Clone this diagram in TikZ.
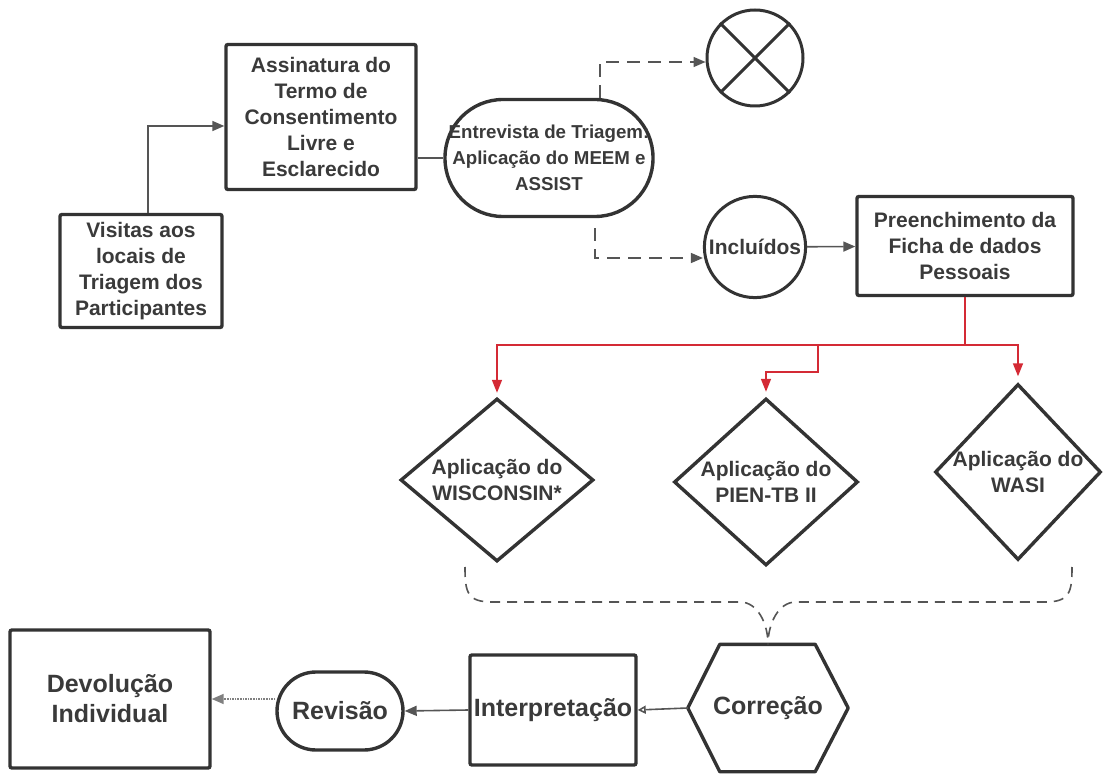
\documentclass[tikz,border=0pt]{standalone}
\usepackage{fontspec}
\setmainfont{Liberation Sans}
\usetikzlibrary{arrows.meta, shapes.geometric, calc}
\definecolor{txtgray}{HTML}{3A3A3A}
\definecolor{edgegray}{HTML}{333333}
\definecolor{linkgray}{HTML}{555555}
\definecolor{linkred}{HTML}{D42A35}

\begin{document}
\begin{tikzpicture}[x=1pt, y=-1pt,
    every node/.style={text=txtgray, font=\fontsize{21}{26}\selectfont\bfseries, align=center},
    box/.style={draw=edgegray, line width=3.4pt, rounded corners=2pt, inner sep=2pt},
    ring/.style={draw=edgegray, line width=3pt, circle, minimum size=96},
    rhomb/.style={draw=edgegray, line width=3.4pt, diamond, inner sep=-6pt},
    big/.style={font=\fontsize{25}{30}\selectfont\bfseries},
    link/.style={draw=linkgray, line width=1.6pt, -{Triangle[length=12pt,width=10pt]}},
    dashlink/.style={link, dash pattern=on 13pt off 8pt},
    redlink/.style={draw=linkred, line width=1.6pt, -{Triangle[length=13pt,width=10pt]}}]
    \useasboundingbox (0,0) rectangle (1106,775);

    % first row
    \node[box, minimum width=162, minimum height=113] (visitas) at (141,271)
        {Visitas aos\\locais de\\Triagem dos\\Participantes};
    \node[box, minimum width=190, minimum height=145] (assinatura) at (321,117)
        {Assinatura do\\Termo de\\Consentimento\\Livre e\\Esclarecido};
    \node[box, rounded corners=58pt, minimum width=208, minimum height=117,
          font=\fontsize{18.7}{26}\selectfont\bfseries] (entrevista) at (549,158)
        {Entrevista de Triagem:\\Aplicação do MEEM e\\ASSIST};
    \node[ring] (excluidos) at (755,58) {};
    \node[ring, minimum height=100] (incluidos) at (755,247) {Incluídos};
    \node[box, minimum width=216, minimum height=99] (ficha) at (965,246)
        {Preenchimento da\\Ficha de dados\\Pessoais};

    \draw[edgegray, line width=3pt] (excluidos.45) -- (excluidos.225);
    \draw[edgegray, line width=3pt] (excluidos.135) -- (excluidos.-45);

    \draw[link] ([xshift=7pt]visitas.north) |- ([yshift=-9pt]assinatura.west);
    \draw[draw=linkgray, line width=1.6pt] (assinatura.east |- entrevista.west) -- (entrevista.west);
    \draw[dashlink] ([xshift=51pt]entrevista.north) |- ([yshift=-4pt]excluidos.west);
    \draw[dashlink] ([xshift=46pt,yshift=-10pt]entrevista.south) |- ([yshift=-11pt]incluidos.west);
    \draw[link] (incluidos) -- (ficha);

    % tests
    \node[rhomb, minimum width=193, minimum height=163] (wisconsin) at (497,480)
        {Aplicação do\\WISCONSIN*};
    \node[rhomb, minimum width=184, minimum height=167] (pien) at (766,482)
        {Aplicação do\\PIEN-TB II};
    \node[rhomb, minimum width=166, minimum height=176] (wasi) at (1018,472)
        {Aplicação do\\WASI};

    \coordinate (split) at (965,345);
    \coordinate (mid) at (818,345);
    \draw[draw=linkred, line width=1.6pt] (ficha.south) -- (split);
    \draw[redlink, shorten >=4pt] (split) -| (wisconsin.north);
    \draw[redlink, shorten >=6pt] (split) -| (wasi.north);
    \draw[redlink, shorten >=5pt] (mid) -- ++(0,27) -| (pien.north);

    % last row
    \node[minimum width=160, minimum height=127, big] (correcao) at (768,708) {Correção};
    \draw[edgegray, line width=3.4pt, line join=round]
        (correcao.west) -- ([xshift=32pt]correcao.north west) -- ([xshift=-33pt]correcao.north east)
        -- (correcao.east) -- ([xshift=-33pt]correcao.south east) -- ([xshift=32pt]correcao.south west) -- cycle;
    \node[box, minimum width=166, minimum height=110, big] (interp) at (553,710) {Interpretação};
    \node[box, rounded corners=39pt, minimum width=126, minimum height=78, big] (revisao) at (340,711) {Revisão};
    \node[box, minimum width=200, minimum height=138, big] (devolucao) at (110,699) {Devolução\\Individual};

    \coordinate (bl) at (465,567);
    \coordinate (br) at (1072,567);
    \draw[draw=linkgray, line width=1.6pt, dash pattern=on 10pt off 7pt]
        (bl) .. controls +(0,25) and +(-25,0) .. (492,602) -- (740,602)
        .. controls +(18,0) and +(0,-20) .. (correcao.north);
    \draw[draw=linkgray, line width=1.6pt, dash pattern=on 10pt off 7pt]
        (br) .. controls +(0,25) and +(25,0) .. (1045,602) -- (796,602)
        .. controls +(-18,0) and +(0,-20) .. (correcao.north);

    \draw[link, -{Triangle[open,length=8pt,width=8pt]}] (correcao.west) -- (interp.east);
    \draw[link] (interp.west) -- (revisao.east);
    \draw[link, draw=gray, densely dotted] (revisao.west |- devolucao.east) -- (devolucao.east);
\end{tikzpicture}
\end{document}
